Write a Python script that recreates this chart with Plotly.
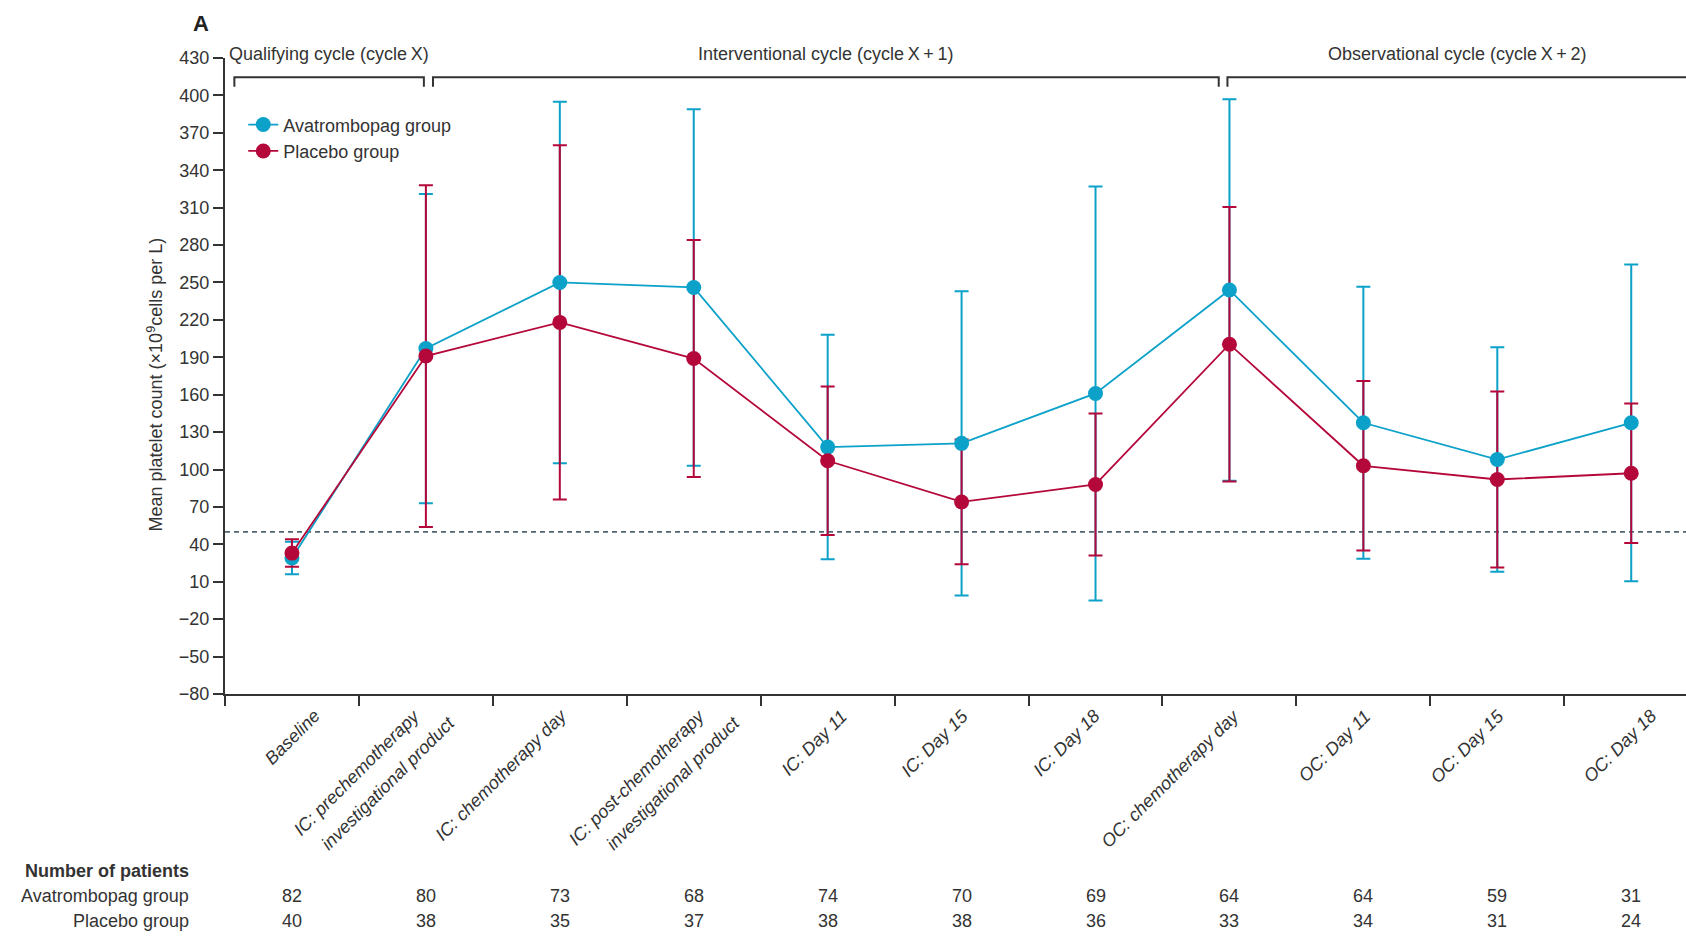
import plotly.graph_objects as go

# Time points (categories) and their axis labels
categories = [
    "Baseline",
    "IC: prechemotherapy investigational product",
    "IC: chemotherapy day",
    "IC: post-chemotherapy investigational product",
    "IC: Day 11",
    "IC: Day 15",
    "IC: Day 18",
    "OC: chemotherapy day",
    "OC: Day 11",
    "OC: Day 15",
    "OC: Day 18",
]
tick_labels = [
    ["Baseline"],
    ["IC: prechemotherapy", "investigational product"],
    ["IC: chemotherapy day"],
    ["IC: post-chemotherapy", "investigational product"],
    ["IC: Day 11"],
    ["IC: Day 15"],
    ["IC: Day 18"],
    ["OC: chemotherapy day"],
    ["OC: Day 11"],
    ["OC: Day 15"],
    ["OC: Day 18"],
]

# Mean platelet count (x10^9 cells per L) and SD
avatrombopag_mean = [29, 197, 250, 246, 118, 121, 161, 244, 137.5, 108, 137.5]
avatrombopag_sd = [13, 124, 145, 143, 90, 122, 166, 153, 109, 90, 127]
placebo_mean = [33, 191, 218, 189, 107, 74, 88, 200.5, 103, 92, 97]
placebo_sd = [11, 137, 142, 95, 59.5, 50, 57, 110, 68, 70.5, 56]

# Number of patients at each time point
avatrombopag_n = [82, 80, 73, 68, 74, 70, 69, 64, 64, 59, 31]
placebo_n = [40, 38, 35, 37, 38, 38, 36, 33, 34, 31, 24]

threshold = 50
y_ticks = list(range(-80, 431, 30))

cycle_names = [
    "Qualifying cycle (cycle\u2009X)",
    "Interventional cycle (cycle\u2009X\u2009+\u20091)",
    "Observational cycle (cycle\u2009X\u2009+\u20092)",
]

BLUE = "#0CA1C9"
RED = "#B5083A"
INK = "#333333"
FONT = "Liberation Sans, Arial, sans-serif"

# Hand placement of the slanted labels (px, horizontal)
label_nudge = [35, 0, 14, 17, 26, 14, 11, 16, 14, 14, 32]
second_line_offset = (36, -6.5)

fig = go.Figure()

# Error bars first (blue under red), then lines and markers on top
for mean, sd, color in [(avatrombopag_mean, avatrombopag_sd, BLUE),
                        (placebo_mean, placebo_sd, RED)]:
    fig.add_trace(go.Scatter(
        x=categories, y=mean, mode="markers",
        marker=dict(size=1, color="rgba(0,0,0,0)"),
        error_y=dict(type="data", array=sd, visible=True,
                     color=color, thickness=2, width=7),
        showlegend=False, hoverinfo="skip",
    ))

for name, mean, color in [("Avatrombopag group", avatrombopag_mean, BLUE),
                          ("Placebo group", placebo_mean, RED)]:
    fig.add_trace(go.Scatter(
        x=categories, y=mean, mode="lines+markers", name=name,
        line=dict(color=color, width=1.8),
        marker=dict(size=15, color=color),
    ))

# Threshold line
fig.add_shape(type="line", xref="paper", x0=0, x1=1, yref="y", y0=threshold, y1=threshold,
              line=dict(color="#4F6570", width=1.8, dash="5px,4px"), layer="below")

# Cycle brackets
bracket_spans = [(-0.43, 0.985), (1.053, 6.92), (6.985, 10.42)]
top_y, drop_y = 414.5, 407
for (x0, x1), label in zip(bracket_spans, cycle_names):
    fig.add_shape(type="path", xref="x", yref="y",
                  path=f"M {x0} {drop_y} L {x0} {top_y} L {x1} {top_y} L {x1} {drop_y}",
                  line=dict(color=INK, width=2))
    fig.add_annotation(x=(x0 + x1) / 2, xref="x", y=1.0068, yref="paper",
                       text=label, showarrow=False, xanchor="center", yanchor="middle",
                       font=dict(family=FONT, size=18, color=INK))

# Slanted category labels, one annotation per text line
for cat, lines, nudge in zip(categories, tick_labels, label_nudge):
    for j, line in enumerate(lines):
        fig.add_annotation(x=cat, xref="x", y=-0.014, yref="paper", text=f"<i>{line}</i>",
                           showarrow=False, textangle=-45, xanchor="right", yanchor="top",
                           xshift=nudge + j * second_line_offset[0],
                           yshift=j * second_line_offset[1],
                           font=dict(family=FONT, size=18, color=INK))

# Number-of-patients table
row_y = [-0.2778, -0.317, -0.357]
fig.add_annotation(x=-0.0232, xref="paper", y=row_y[0], yref="paper",
                   text="<b>Number of patients</b>", showarrow=False,
                   xanchor="right", yanchor="middle",
                   font=dict(family=FONT, size=18, color=INK))
for row, (label, counts) in enumerate([("Avatrombopag group", avatrombopag_n),
                                       ("Placebo group", placebo_n)], start=1):
    fig.add_annotation(x=-0.0232, xref="paper", y=row_y[row], yref="paper",
                       text=label, showarrow=False, xanchor="right", yanchor="middle",
                       font=dict(family=FONT, size=18, color=INK))
    for cat, n in zip(categories, counts):
        fig.add_annotation(x=cat, xref="x", y=row_y[row], yref="paper",
                           text=str(n), showarrow=False, xanchor="center", yanchor="middle",
                           font=dict(family=FONT, size=18, color=INK))

# Y-axis title and panel letter
fig.add_annotation(x=-0.0475, xref="paper", y=0.486, yref="paper",
                   text="Mean platelet count (\u00d710<sup>9</sup>cells per L)",
                   textangle=-90, showarrow=False, xanchor="center", yanchor="middle",
                   font=dict(family=FONT, size=18, color=INK))
fig.add_annotation(x=-0.0164, xref="paper", y=1.0544, yref="paper", text="<b>A</b>",
                   showarrow=False, xanchor="center", yanchor="middle",
                   font=dict(family=FONT, size=22, color="#222222"))

fig.update_layout(
    width=1686, height=938,
    margin=dict(l=225, r=0, t=58, b=244, pad=0),
    paper_bgcolor="white", plot_bgcolor="white",
    font=dict(family=FONT, size=18, color=INK),
    legend=dict(x=0.0125, y=0.924, xanchor="left", yanchor="top",
                bgcolor="rgba(0,0,0,0)", font=dict(family=FONT, size=18, color=INK),
                itemwidth=30, tracegroupgap=0),
    xaxis=dict(type="category", categoryorder="array", categoryarray=categories,
               range=[-0.5, 10.409], tickson="boundaries", ticks="outside",
               ticklen=10, tickwidth=2, tickcolor=INK, showticklabels=False,
               showline=True, linecolor=INK, linewidth=2, showgrid=False, zeroline=False),
    yaxis=dict(range=[-80, 430], tickvals=y_ticks, ticks="outside", ticklen=10,
               tickwidth=2, tickcolor=INK, showline=True, linecolor=INK, linewidth=2,
               showgrid=False, zeroline=False,
               tickfont=dict(family=FONT, size=18, color=INK)),
    showlegend=True,
)

fig.write_html("out.html")
